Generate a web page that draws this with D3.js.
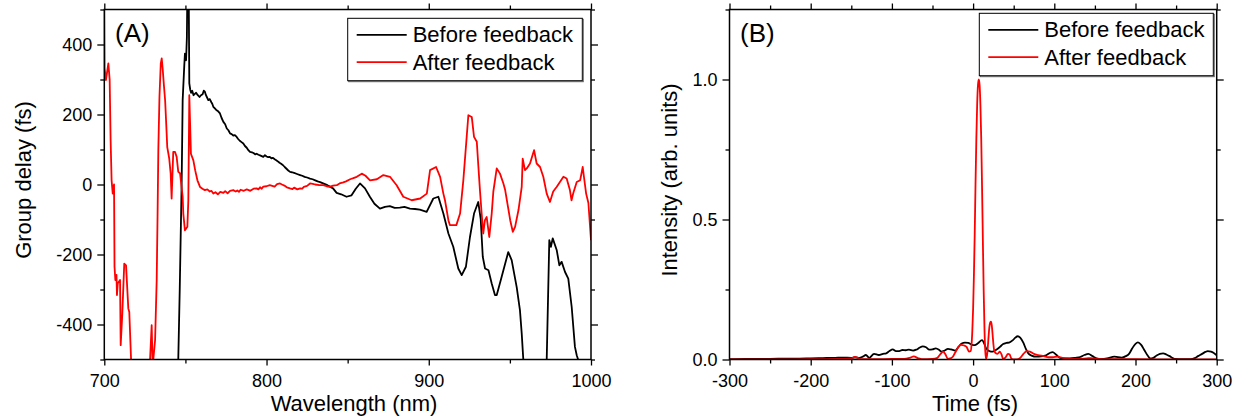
<!DOCTYPE html>
<html>
<head>
<meta charset="utf-8">
<script src="https://cdn.jsdelivr.net/npm/d3@7"></script>
<style>
  body { margin: 0; background: #fff; }
  svg { display: block; font-family: "Liberation Sans", Arial, sans-serif; }
</style>
</head>
<body>
<svg id="chart" width="1241" height="419"></svg>
<script>
// ---- panel A : group delay vs wavelength ----
var beforeWl = [744, 745.6, 746.5, 747.7, 748.3, 749.3, 749.7, 750.4, 750.9, 751.4, 751.9, 752.4, 753, 753.5, 754.2, 755, 755.8, 756.6, 757.5, 758.7, 759.6, 760.6, 761.3, 762, 762.6, 763.2, 764.1, 765, 766, 766.6, 767.2, 768, 769, 770.2, 771.3, 772.3, 773.4, 774.5, 775.5, 776.5, 777.5, 778.5, 779.5, 780.5, 781.6, 782.5, 783.5, 784.6, 785.7, 786.7, 787.8, 788.8, 789.8, 791, 792, 793, 793.9, 795, 796, 797, 798, 799, 800, 801, 802, 803, 804, 805, 806, 807, 808, 809, 810.2, 811.2, 812.3, 813.4, 814.5, 815.7, 817, 818.8, 820.7, 822, 823.5, 825, 826.8, 828.4, 830, 831.5, 833, 834.5, 836, 837.5, 839.1, 841, 843.2, 846, 849.3, 852.4, 855, 857.6, 860.7, 863.7, 866.5, 869.9, 873, 876, 879, 882.2, 885, 888.4, 891.5, 894.5, 898.7, 902.8, 905.9, 909, 912.1, 915.1, 918.2, 920.3, 922.9, 925.4, 927.9, 930.5, 932, 933.3, 934.7, 936.8, 938.8, 940.8, 941.9, 944.9, 949, 951.1, 954.2, 956.2, 957.3, 958.3, 960, 971, 972.7, 974.3, 975.3, 976.4, 978.9, 980.5, 981.9, 984, 986, 988.1, 990.1, 991.2, 992.2, 994];
var beforeGd = [-650, -500, -300, 10, 241, 340, 374, 355, 420, 650, 650, 289, 270, 262, 268, 255, 259, 262, 256, 250, 255, 258, 268, 265, 256, 250, 241, 244, 235, 230, 222, 218, 213, 209, 203, 190, 179, 172, 160, 155, 146, 144, 140, 141, 136, 130, 125, 121, 117, 110, 105, 98, 93, 92, 90, 86, 88, 85, 83, 81, 79, 84, 80, 78, 79, 75, 76, 72, 69, 66, 62, 59, 55, 50, 45, 40, 36, 35, 33, 30, 27, 25, 22, 20, 17, 15, 12, 9, 7, 4, 1, -2, -6, -11, -24, -28, -35, -31, -12, 3, -11, -35, -55, -69, -64, -62, -67, -66, -64, -69, -70, -72, -78, -40, -35, -83, -140, -178, -240, -259, -235, -150, -83, -50, -98, -207, -240, -245, -283, -316, -316, -264, -193, -216, -293, -359, -426, -502, -650, -650, -500, -159, -178, -154, -188, -231, -221, -250, -269, -350, -464, -488, -502, -650];

var afterWl = [700, 700.2, 701, 702.5, 703.3, 703.9, 704.5, 705.2, 706, 706.3, 706.8, 707.5, 707.8, 708.3, 709.7, 710.1, 711.1, 712.3, 713.4, 714.8, 715.4, 716.5, 717, 728, 728.2, 729.2, 729.8, 731.3, 732.3, 732.8, 733.3, 734, 734.8, 735.4, 736, 736.8, 737.5, 738.2, 738.8, 740, 740.9, 741.5, 742.5, 743.6, 744.6, 745.6, 746.7, 748.3, 748.7, 749.7, 751.2, 751.8, 752.4, 753.4, 754.9, 756, 757.4, 759, 760.5, 762, 763.5, 765, 766, 767.2, 768.5, 770, 771.5, 773.4, 774.5, 776, 777.5, 779.5, 781, 782, 783, 784, 786, 787.8, 789, 790, 792, 793.9, 795, 796, 797, 798, 800, 802, 803.5, 805, 806.5, 808.3, 809.5, 811, 812.5, 814.5, 816, 817, 819, 820.7, 822, 823, 825, 826.8, 828.5, 830, 832.5, 835, 837, 839, 841, 843.3, 845, 847.3, 849, 851.5, 853.5, 855.6, 858.7, 861, 863.8, 868, 872, 876.1, 880.2, 884.3, 889.5, 894.7, 898.8, 900.8, 904.5, 907, 909, 910, 912.1, 913, 917, 919.3, 921.3, 924.4, 926.5, 927.9, 929.6, 930.6, 931.6, 932.6, 933.6, 934.6, 935.7, 937.3, 938.8, 939.8, 941.9, 943.9, 946, 947.1, 950.2, 951.8, 953.2, 955.3, 957.3, 957.9, 959.3, 960.4, 962.4, 964.9, 966.5, 968.6, 970.6, 972.7, 974.7, 976.7, 978.8, 983, 985, 987, 988, 989, 991.2, 993.3, 994.9, 995.7, 997, 998.4, 1000];
var afterGd = [520, 332, 298, 346, 300, 126, 12, -26, 0, -235, -273, -258, -316, -282, -273, -459, -369, -226, -231, -354, -364, -500, -600, -600, -500, -402, -520, -445, -273, -100, 98, 250, 345, 360, 330, 280, 240, 170, 107, 75, 32, -40, 93, 93, 79, 36, 32, -35, -83, -131, -121, -45, 255, 88, 69, 41, 12, -7, -12, -16, -14, -20, -18, -26, -22, -28, -21, -24, -19, -25, -18, -16, -20, -17, -21, -15, -18, -14, -16, -18, -12, -11, -14, -8, -12, -6, -5, -2, -4, -6, 1, 3, 0, -3, -8, -11, -13, -9, -14, -11, -12, -7, -4, 3, 2, 0, -2, -2, -5, -7, -3, -2, 3, 6, 9, 15, 18, 22, 31, 25, 12, 15, 27, 22, -2, -35, -45, -40, -26, 41, 50, 22, -26, -45, -102, -116, -116, -83, 12, 198, 193, 136, 122, 50, -20, -83, -140, -102, -93, -150, -83, -20, 46, 31, 3, -16, -102, -135, -121, -73, -7, 74, 41, 46, 60, 98, 60, 50, 22, -26, -50, -20, -7, 22, 17, -16, -45, -26, 7, 12, 50, 20, -26, -53, -159];

var wlTicks = [700, 800, 900, 1000];
var wlMinor = [750, 850, 950];
var gdTicks = [-400, -200, 0, 200, 400];
var gdMinor = [-500, -300, -100, 100, 300, 500];

// ---- panel B : intensity vs time ----
var beforeT = [-300, -280, -260, -240, -220, -200, -185, -170, -160, -150, -145, -140, -136, -132, -128, -122, -116, -111, -107, -103, -99, -95, -91, -87, -83, -79, -74, -70, -66, -62, -58, -54, -50, -46, -42, -39, -35, -31, -27, -22, -18, -14, -10, -6, -2, 2, 6, 11, 14, 16, 20, 24, 28, 33, 37, 41, 45, 49, 52, 55, 58, 62, 65, 68, 72, 78, 84, 90, 95, 98, 102, 107, 113, 119, 126, 132, 137, 142, 147, 152, 158, 165, 174, 183, 188, 192, 196, 200, 203, 207, 211, 215, 218, 222, 226, 230, 234, 238, 242, 246, 249, 258, 268, 273, 277, 282, 286, 289, 293, 296, 300];
var beforeI = [0.001, 0.002, 0.002, 0.003, 0.003, 0.004, 0.005, 0.006, 0.007, 0.006, 0.008, 0.006, 0.01, 0.016, 0.006, 0.02, 0.016, 0.02, 0.022, 0.03, 0.036, 0.03, 0.03, 0.034, 0.033, 0.035, 0.032, 0.035, 0.042, 0.047, 0.044, 0.035, 0.036, 0.04, 0.035, 0.028, 0.032, 0.038, 0.036, 0.032, 0.045, 0.057, 0.06, 0.059, 0.053, 0.051, 0.058, 0.069, 0.055, 0.04, 0.03, 0.028, 0.034, 0.045, 0.055, 0.059, 0.061, 0.069, 0.078, 0.083, 0.078, 0.059, 0.038, 0.022, 0.014, 0.01, 0.011, 0.015, 0.024, 0.026, 0.018, 0.006, 0.004, 0.004, 0.006, 0.009, 0.016, 0.02, 0.012, 0.004, 0.002, 0.004, 0.01, 0.007, 0.012, 0.02, 0.04, 0.056, 0.061, 0.052, 0.033, 0.014, 0.004, 0.006, 0.014, 0.02, 0.022, 0.018, 0.012, 0.005, 0.002, 0.001, 0.001, 0.005, 0.012, 0.02, 0.027, 0.03, 0.028, 0.024, 0.015];

var afterT = [-300, -250, -200, -160, -150, -146, -142, -138, -120, -100, -85, -78, -73, -68, -63, -50, -44, -40, -37, -34, -31, -28, -25, -22, -18, -15, -11, -8, -5, -3, -2, -1, 0, 1, 2, 3, 4, 5, 6, 7, 8, 9, 10, 11, 12, 13, 14, 15, 16, 17, 18, 19, 20, 21, 22, 23, 24, 25, 26, 28, 30, 33, 35, 37, 40, 43, 45, 47, 50, 54, 58, 62, 66, 70, 75, 80, 87, 93, 98, 104, 110, 119, 130, 140, 145, 150, 170, 200, 250, 300];
var afterI = [0, 0, 0.001, 0.002, 0.004, 0.009, 0.006, 0.001, 0.001, 0.002, 0.002, 0.006, 0.011, 0.005, 0.001, 0.002, 0.006, 0.02, 0.028, 0.018, 0.002, 0.004, 0.01, 0.025, 0.045, 0.052, 0.05, 0.045, 0.028, 0.03, 0.05, 0.1, 0.18, 0.3, 0.45, 0.63, 0.79, 0.91, 0.98, 1.0, 0.98, 0.91, 0.79, 0.62, 0.43, 0.25, 0.11, 0.03, 0.003, 0.012, 0.04, 0.08, 0.115, 0.132, 0.135, 0.122, 0.09, 0.055, 0.032, 0.022, 0.02, 0.028, 0.018, 0.002, 0.008, 0.02, 0.018, 0.004, 0, 0, 0.006, 0.02, 0.03, 0.028, 0.02, 0.016, 0.012, 0.008, 0.008, 0.01, 0.006, 0.003, 0.002, 0.004, 0.005, 0.003, 0.001, 0.001, 0, 0];

var tTicks = [-300, -200, -100, 0, 100, 200, 300];
var tMinor = [-250, -150, -50, 50, 150, 250];
var iTicks = [0, 0.5, 1.0];
var iMinor = [0.25, 0.75, 1.25];

var seriesNames = ["Before feedback", "After feedback"];
var seriesColors = ["#000000", "#ff0000"];

var svg = d3.select("#chart");

function zip(xs, ys) {
    return xs.map(function(x, i) { return [x, ys[i]]; });
}

function drawPanel(opt) {
    var x = d3.scaleLinear().domain(opt.xDomain).range([opt.left, opt.right]);
    var y = d3.scaleLinear().domain(opt.yDomain).range([opt.bottom, opt.top]);
    var g = svg.append("g");

    g.append("clipPath").attr("id", opt.id + "-clip")
        .append("rect")
        .attr("x", opt.left).attr("y", opt.top)
        .attr("width", opt.right - opt.left).attr("height", opt.bottom - opt.top);

    var line = d3.line()
        .x(function(d) { return x(d[0]); })
        .y(function(d) { return y(d[1]); })
        .curve(opt.curve);

    var lines = g.append("g").attr("clip-path", "url(#" + opt.id + "-clip)");
    opt.series.forEach(function(s, i) {
        lines.append("path")
            .datum(s)
            .attr("fill", "none")
            .attr("stroke", seriesColors[i])
            .attr("stroke-width", 1.8)
            .attr("stroke-linejoin", "round")
            .attr("d", line);
    });

    // axes: major + minor ticks on all four sides, pointing outward
    function addAxis(axisFn, scale, ticks, size, labels, transform) {
        var a = g.append("g").attr("transform", transform)
            .call(axisFn(scale).tickValues(ticks).tickSize(size).tickSizeOuter(0)
                .tickFormat(labels ? opt.fmt[axisFn === d3.axisBottom ? 0 : 1] : ""));
        a.select(".domain").remove();
        a.selectAll("line").attr("stroke", "#000").attr("stroke-width", 1.3);
        a.selectAll("text").attr("font-size", 18).attr("fill", "#000")
            .attr("font-family", "'Liberation Sans', Arial, sans-serif");
        return a;
    }
    var bx = addAxis(d3.axisBottom, x, opt.xTicks, 6, true, "translate(0," + opt.bottom + ")");
    bx.selectAll("text").attr("dy", null).attr("y", 27);
    addAxis(d3.axisBottom, x, opt.xMinor, 4, false, "translate(0," + opt.bottom + ")");
    addAxis(d3.axisTop, x, opt.xTicks, 6, false, "translate(0," + opt.top + ")");
    addAxis(d3.axisTop, x, opt.xMinor, 4, false, "translate(0," + opt.top + ")");
    var ly = addAxis(d3.axisLeft, y, opt.yTicks, 7, true, "translate(" + opt.left + ",0)");
    ly.selectAll("text").attr("x", -12);
    addAxis(d3.axisLeft, y, opt.yMinor, 4, false, "translate(" + opt.left + ",0)");
    addAxis(d3.axisRight, y, opt.yTicks, 7, false, "translate(" + opt.right + ",0)");
    addAxis(d3.axisRight, y, opt.yMinor, 4, false, "translate(" + opt.right + ",0)");

    g.append("rect")
        .attr("x", opt.left).attr("y", opt.top)
        .attr("width", opt.right - opt.left).attr("height", opt.bottom - opt.top)
        .attr("fill", "none").attr("stroke", "#000").attr("stroke-width", 1.5);

    // titles
    g.append("text").attr("x", opt.xTitleX).attr("y", 411)
        .attr("text-anchor", "middle").attr("font-size", 22).text(opt.xTitle);
    g.append("text")
        .attr("transform", "translate(" + opt.yTitleX + ",180) rotate(-90)")
        .attr("text-anchor", "middle").attr("font-size", 22).text(opt.yTitle);
    g.append("text").attr("x", opt.tagX).attr("y", 42)
        .attr("font-size", 26).text(opt.tag);

    // legend
    var lg = opt.legend;
    g.append("rect").attr("x", lg.x + 1).attr("y", lg.y + 1)
        .attr("width", lg.w).attr("height", lg.h)
        .attr("fill", "none").attr("stroke", "#666").attr("stroke-width", 1);
    g.append("rect").attr("x", lg.x).attr("y", lg.y)
        .attr("width", lg.w).attr("height", lg.h)
        .attr("fill", "#fff").attr("stroke", "#000").attr("stroke-width", 1);
    seriesNames.forEach(function(name, i) {
        var cy = lg.y + 16.5 + i * 27.3;
        g.append("line")
            .attr("x1", lg.x + 9).attr("x2", lg.x + 59)
            .attr("y1", cy).attr("y2", cy)
            .attr("stroke", seriesColors[i]).attr("stroke-width", 1.8);
        g.append("text").attr("x", lg.x + 65).attr("y", cy + 7.5)
            .attr("font-size", 22).text(name);
    });
}

drawPanel({
    id: "a", left: 104.3, right: 591, top: 9.5, bottom: 359.5,
    xDomain: [700, 1000], yDomain: [-500, 500],
    xTicks: wlTicks, xMinor: wlMinor, yTicks: gdTicks, yMinor: gdMinor,
    fmt: [function(d) { return String(d); }, function(d) { return String(d); }],
    series: [zip(beforeWl, beforeGd), zip(afterWl, afterGd)],
    curve: d3.curveLinear,
    xTitle: "Wavelength (nm)", xTitleX: 354,
    yTitle: "Group delay (fs)", yTitleX: 31,
    tag: "(A)", tagX: 115,
    legend: { x: 347.7, y: 18.3, w: 234.6, h: 62.4 }
});

drawPanel({
    id: "b", left: 729.5, right: 1216.7, top: 9.5, bottom: 359.5,
    xDomain: [-300, 300], yDomain: [0, 1.25],
    xTicks: tTicks, xMinor: tMinor, yTicks: iTicks, yMinor: iMinor,
    fmt: [function(d) { return String(d); }, d3.format(".1f")],
    series: [zip(beforeT, beforeI), zip(afterT, afterI)],
    curve: d3.curveMonotoneX,
    xTitle: "Time (fs)", xTitleX: 975,
    yTitle: "Intensity (arb. units)", yTitleX: 677,
    tag: "(B)", tagX: 740,
    legend: { x: 979.3, y: 13.3, w: 234, h: 62.4 }
});
</script>
</body>
</html>
